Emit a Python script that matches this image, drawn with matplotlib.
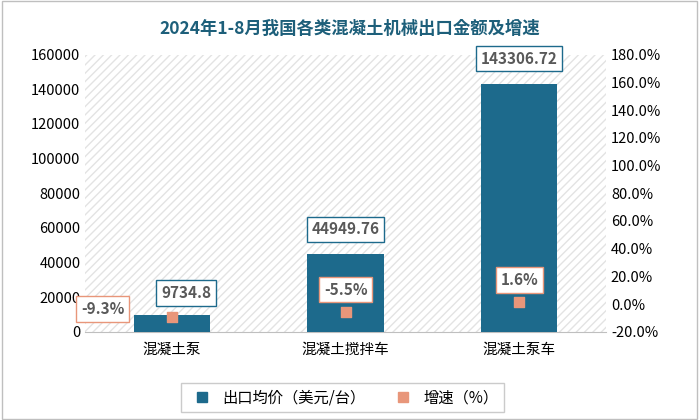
import matplotlib.pyplot as plt
from matplotlib.lines import Line2D
import numpy as np

plt.rcParams['font.family'] = ['Noto Sans CJK JP', 'Noto Sans CJK SC', 'DejaVu Sans']

categories = ['混凝土泵', '混凝土搅拌车', '混凝土泵车']
prices = [9734.8, 44949.76, 143306.72]
growth = [-9.3, -5.5, 1.6]
price_labels = ['9734.8', '44949.76', '143306.72']
growth_labels = ['-9.3%', '-5.5%', '1.6%']

bar_color = '#1d6a8c'
dot_color = '#e8967a'

fig = plt.figure(figsize=(6.99, 4.2), dpi=100)
ax = fig.add_axes([0.122, 0.21, 0.745, 0.66])
x = np.arange(len(categories))
ax.bar(x, prices, width=0.44, color=bar_color, zorder=3)
ax.set_xlim(-0.5, 2.5)
ax.set_ylim(0, 160000)
ax.set_yticks(range(0, 160001, 20000))
ax.set_xticks(x)
ax.set_xticklabels(categories, fontsize=12)
ax.tick_params(axis='both', length=0, labelsize=10.5)
ax.tick_params(axis='x', pad=8)
for s in ['top', 'left', 'right']:
    ax.spines[s].set_visible(False)
ax.spines['bottom'].set_color('#bfbfbf')
ax.add_patch(plt.Rectangle((0, 0), 1, 1, transform=ax.transAxes,
                           facecolor='white', hatch='////', edgecolor='#e3e3e3',
                           linewidth=0, zorder=0))

poffs = [(10, 10), (0, 12), (0, 12)]
for xi, v, t, off in zip(x, prices, price_labels, poffs):
    ax.annotate(t, (xi, v), xytext=off, textcoords='offset points',
                ha='center', va='bottom', fontsize=11, fontweight='bold', color='#595959',
                bbox=dict(boxstyle='square,pad=0.3', fc='white', ec=bar_color, lw=1), zorder=6)

ax2 = ax.twinx()
ax2.set_ylim(-20, 180)
ax2.set_yticks(range(-20, 181, 20))
ax2.set_yticklabels([f'{v:.1f}%' for v in range(-20, 181, 20)])
ax2.tick_params(length=0, labelsize=10.5)
for s in ax2.spines.values():
    s.set_visible(False)
ax2.scatter(x, growth, marker='s', s=55, color=dot_color, zorder=5)
goffs = [(-50, 0), (0, 10), (0, 10)]
for xi, g, t, off in zip(x, growth, growth_labels, goffs):
    ax2.annotate(t, (xi, g), xytext=off, textcoords='offset points',
                 ha='center', va='bottom', fontsize=11, fontweight='bold', color='#595959',
                 bbox=dict(boxstyle='square,pad=0.3', fc='white', ec=dot_color, lw=1), zorder=6)

fig.text(0.5, 0.93, '2024年1-8月我国各类混凝土机械出口金额及增速', ha='center', va='center',
         fontsize=12.5, fontweight='bold', color='#1d5f7a')

handles = [Line2D([], [], marker='s', ls='', color=bar_color, markersize=7),
           Line2D([], [], marker='s', ls='', color=dot_color, markersize=7)]
leg = fig.legend(handles, ['出口均价（美元/台）', '增速（%）'], loc='lower center',
                 bbox_to_anchor=(0.49, 0.0), ncol=2, fontsize=11, frameon=True,
                 fancybox=False, handletextpad=0.3, columnspacing=1.5)
leg.get_frame().set_edgecolor('#bfbfbf')

fig.add_artist(plt.Rectangle((0.003, 0.003), 0.994, 0.994, transform=fig.transFigure,
                             fill=False, ec='#bfbfbf', lw=1))
fig.savefig('out.png', dpi=100)
